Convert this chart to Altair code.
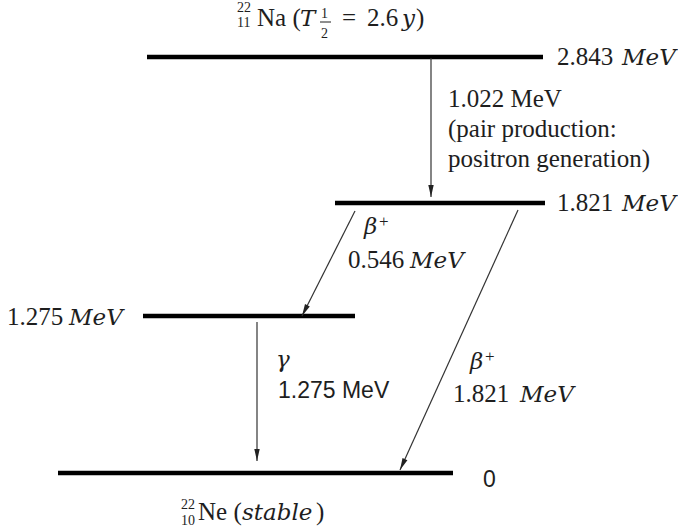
import math
import altair as alt
import pandas as pd

W, H = 678, 532

# ---- energy levels (MeV) and their place in the diagram ----
level_energy = [2.843, 1.821, 1.275, 0.0]
level_y = [57, 203, 316, 473]
level_x1 = [147, 335, 143, 58]
level_x2 = [543, 545, 355, 453]

# ---- transitions (arrows) ----
trans_name = ["pair production", "beta+ 0.546", "gamma 1.275", "beta+ 1.821"]
trans_x1 = [431, 355, 257, 518]
trans_y1 = [58, 211, 322, 210]
trans_x2 = [431, 302, 257, 400]
trans_y2 = [197, 316, 461, 470]

# ---- texts ----
serif_text = ["Na (", "=", "2.6", ")", "Ne (", ")", "2.843", "1.821", "1.275",
              "0.546", "1.821", "1.022 MeV", "(pair production:", "positron generation)"]
serif_x = [257, 342, 367, 416, 198, 316, 557, 557, 7, 348, 453, 448, 448, 448]
serif_y = [26, 26, 26, 26, 520, 520, 65, 211, 325, 268, 402, 107, 137, 167]

small_text = ["22", "11", "1", "2", "22", "10"]
small_x = [237, 237, 321, 321, 181, 181]
small_y = [12, 27, 18, 38, 509, 525]

sup_text = ["+", "+"]
sup_x = [379, 485]
sup_y = [227, 362]

italic_text = ["T", "y", "stable", "MeV", "MeV", "MeV", "MeV", "MeV", "β", "β", "γ"]
italic_x = [300, 402, 242, 622, 622, 69, 410, 520, 364, 470, 276]
italic_y = [26, 26, 520, 65, 211, 325, 268, 402, 234, 369, 367]

sans_text = ["1.275 MeV", "0"]
sans_x = [278, 483]
sans_y = [398, 487]

frac_x1, frac_x2, frac_y = [320], [331], [22]

TXT = "#1e1e1e"

xs = alt.Scale(domain=[0, W], nice=False, zero=False)
ys = alt.Scale(domain=[0, H], nice=False, zero=False, reverse=True)


def X(f):
    return alt.X(f + ":Q", scale=xs, axis=None)


def Y(f):
    return alt.Y(f + ":Q", scale=ys, axis=None)


levels = pd.DataFrame({"E": level_energy, "x": level_x1, "x2": level_x2, "y": level_y})
level_layer = alt.Chart(levels).mark_rule(color="black", strokeWidth=4.5, strokeCap="butt").encode(
    x=X("x"), x2="x2", y=Y("y"))

tr = pd.DataFrame({"name": trans_name, "x": trans_x1, "y": trans_y1, "x2": trans_x2, "y2": trans_y2})
arrow_lines = alt.Chart(tr).mark_rule(color="#333333", strokeWidth=1.2).encode(
    x=X("x"), y=Y("y"), x2="x2", y2="y2")

# arrowheads: oriented along each transition
heads = []
for n, a, b, c, d in zip(trans_name, trans_x1, trans_y1, trans_x2, trans_y2):
    dx, dy = c - a, d - b
    L = math.hypot(dx, dy)
    ang = math.degrees(math.atan2(-dx, dy)) % 360
    heads.append({"name": n, "hx": c - 6 * dx / L, "hy": d - 6 * dy / L, "ang": ang})
heads = pd.DataFrame(heads)
arrow_heads = alt.Chart(heads).mark_point(
    shape="M0,1L-0.45,-1L0.45,-1Z", filled=True, color="#222222", opacity=1, size=144
).encode(x=X("hx"), y=Y("hy"), angle=alt.Angle("ang:Q", scale=None))

frac = pd.DataFrame({"x": frac_x1, "x2": frac_x2, "y": frac_y})
frac_layer = alt.Chart(frac).mark_rule(color=TXT, strokeWidth=1).encode(x=X("x"), x2="x2", y=Y("y"))


def text_layer(texts, xs_, ys_, font, size, style="normal"):
    df = pd.DataFrame({"t": texts, "x": xs_, "y": ys_})
    return alt.Chart(df).mark_text(
        font=font, fontSize=size, fontStyle=style, align="left", baseline="alphabetic", color=TXT
    ).encode(x=X("x"), y=Y("y"), text="t:N")


serif_layer = text_layer(serif_text, serif_x, serif_y, "Liberation Serif", 25)
small_layer = text_layer(small_text, small_x, small_y, "Liberation Serif", 14)
sup_layer = text_layer(sup_text, sup_x, sup_y, "Liberation Serif", 17)
italic_layer = text_layer(italic_text, italic_x, italic_y, "DejaVu Serif", 23, "italic")
sans_layer = text_layer(sans_text, sans_x, sans_y, "Liberation Sans", 23)

chart = alt.layer(
    level_layer, arrow_lines, arrow_heads, frac_layer,
    serif_layer, small_layer, sup_layer, italic_layer, sans_layer
).properties(
    width=W, height=H, autosize=alt.AutoSizeParams(type="none"), padding=0,
    background="white"
).configure_view(stroke=None)

chart.save("out.html", embed_options={"renderer": "svg", "actions": False})
